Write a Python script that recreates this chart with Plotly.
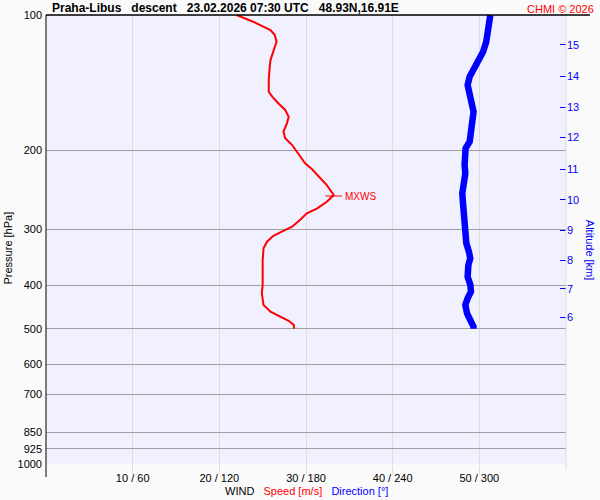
import numpy as np
import plotly.graph_objects as go

# ---------------- data ----------------
speed_p = [100, 103.5, 108.0, 110.8, 114.7, 120.7, 126.0, 131.4, 139.5, 148.2, 152.0, 157.2,
           162.7, 168.5, 174.3, 181.9, 188.2, 194.8, 203.3, 213.9, 220.6, 227.2, 239.2, 251.7,
           260.5, 269.5, 276.5, 286.2, 296.1, 303.8, 310.6, 319.8, 330.8, 351.3, 399.3, 416.7,
           442.5, 458.0, 469.9, 479.7, 490.4, 500]
speed_ms = [22.0, 23.9, 25.9, 26.4, 26.6, 26.2, 25.9, 25.8, 25.7, 25.7, 26.1, 26.8,
            27.6, 28.0, 27.8, 27.4, 27.6, 28.4, 29.1, 29.9, 30.7, 31.3, 32.4, 33.2,
            32.4, 31.3, 30.1, 29.3, 28.4, 27.2, 26.2, 25.5, 25.1, 25.0, 25.0, 24.9,
            25.1, 25.9, 27.0, 28.0, 28.6, 28.6]

dir_p = [100, 103.5, 108.9, 114.7, 120.7, 126.0, 131.4, 137.2, 143.2, 149.4, 156.0, 164.2,
         172.9, 183.4, 191.5, 198.1, 206.8, 215.9, 225.3, 237.1, 249.5, 262.6, 281.4, 306.3,
         322.5, 336.7, 348.2, 360.4, 382.8, 399.3, 413.3, 427.6, 442.5, 461.8, 478.0, 494.6, 500]
dir_deg = [307.6, 307.1, 306.4, 304.8, 302.6, 299.5, 296.0, 293.3, 291.9, 293.3, 295.3, 296.0,
           295.1, 294.7, 293.3, 290.5, 289.6, 289.8, 290.3, 289.1, 288.2, 288.7, 289.6, 289.6,
           291.0, 292.8, 293.7, 292.4, 291.9, 293.8, 294.2, 291.9, 290.3, 291.5, 294.2, 296.0, 296.0]

mxws_p = 253
mxws_speed = 33.2

p_ticks = [100, 200, 300, 400, 500, 600, 700, 850, 925, 1000]
p_tick_labels = [str(v) for v in p_ticks]

alt_km = [6, 7, 8, 9, 10, 11, 12, 13, 14, 15]
alt_p = [470.6, 407.0, 351.3, 301.2, 258.2, 220.3, 187.3, 160.5, 136.9, 116.6]

wind_ticks = [10, 20, 30, 40, 50]
wind_tick_labels = ["10 / 60", "20 / 120", "30 / 180", "40 / 240", "50 / 300"]

title_text = ("<b>Praha-Libus&nbsp;&nbsp;&nbsp;descent&nbsp;&nbsp;&nbsp;23.02.2026 07:30 UTC"
              "&nbsp;&nbsp;&nbsp;48.93N,16.91E</b>")
copyright_text = "CHMI © 2026"

# ---------------- figure ----------------
FONT = "Liberation Sans, Arial, sans-serif"
RED = "#FF0000"
BLUE = "#0000FF"

fig = go.Figure()

fig.add_trace(go.Scatter(x=speed_ms, y=speed_p, mode="lines",
                         line=dict(color=RED, width=2), xaxis="x", yaxis="y",
                         showlegend=False, hoverinfo="skip"))
fig.add_trace(go.Scatter(x=dir_deg, y=dir_p, mode="lines",
                         line=dict(color=BLUE, width=6.5), xaxis="x2", yaxis="y",
                         showlegend=False, hoverinfo="skip"))
fig.add_trace(go.Scatter(x=[mxws_speed], y=[mxws_p], mode="markers",
                         marker=dict(symbol="line-ew", size=12,
                                     line=dict(color=RED, width=1)),
                         xaxis="x", yaxis="y", showlegend=False, hoverinfo="skip"))
# invisible trace to activate the right altitude axis
fig.add_trace(go.Scatter(x=[None], y=[None], xaxis="x", yaxis="y2",
                         showlegend=False, hoverinfo="skip"))

shapes = []
# extension of vertical gridlines / right border
shapes.append(dict(type="line", xref="paper", yref="paper", x0=1, x1=1, y0=-0.013, y1=1,
                   line=dict(color="#DCDCDC", width=1), layer="above"))
# left black axis line
shapes.append(dict(type="line", xref="paper", yref="paper", x0=0, x1=0, y0=-0.029, y1=1,
                   line=dict(color="black", width=1), layer="above"))
# top black line
shapes.append(dict(type="line", xref="paper", yref="paper", x0=0, x1=1.046, y0=1, y1=1,
                   line=dict(color="black", width=1.5), layer="above"))
# MXWS markers on both sides
ly = float(np.log10(mxws_p))
shapes.append(dict(type="line", xref="paper", yref="y", x0=-0.006, x1=0.019, y0=ly, y1=ly,
                   line=dict(color=RED, width=1), layer="above"))
shapes.append(dict(type="line", xref="paper", yref="y", x0=0.979, x1=1.002, y0=ly, y1=ly,
                   line=dict(color=RED, width=1), layer="above"))

annotations = [
    dict(text=title_text, xref="paper", yref="paper", x=0.008, y=1.0, xanchor="left",
         yanchor="bottom", yshift=-2, showarrow=False, font=dict(family=FONT, size=12, color="black")),
    dict(text=copyright_text, xref="paper", yref="paper", x=1.058, y=1.0, xanchor="right",
         yanchor="bottom", yshift=-2, showarrow=False, font=dict(family=FONT, size=11, color=RED)),
    dict(text="MXWS", xref="x", yref="y", x=mxws_speed, y=ly, xanchor="left", yanchor="middle",
         xshift=9, showarrow=False, font=dict(family=FONT, size=10, color=RED)),
    dict(text=("WIND&nbsp;&nbsp;&nbsp;<span style='color:#FF0000'>Speed [m/s]</span>&nbsp;&nbsp;&nbsp;"
               "<span style='color:#0000FF'>Direction [°]</span>"),
         xref="paper", yref="paper", x=0.5, y=-0.06, xanchor="center", yanchor="middle",
         showarrow=False, font=dict(family=FONT, size=11, color="black")),
    dict(text="Altitude [km]", xref="paper", yref="paper", x=1.046, y=0.475, xanchor="center",
         yanchor="middle", textangle=90, showarrow=False,
         font=dict(family=FONT, size=11, color=BLUE)),
    dict(text="Pressure [hPa]", xref="paper", yref="paper", x=-0.073, y=0.48, xanchor="center",
         yanchor="middle", textangle=-90, showarrow=False,
         font=dict(family=FONT, size=11, color="black")),
]

fig.update_layout(
    width=600, height=500,
    margin=dict(l=46, r=34, t=15, b=36, pad=0, autoexpand=False),
    paper_bgcolor="#FAFAFA",
    plot_bgcolor="#F0F0FF",
    font=dict(family=FONT, size=11, color="black"),
    xaxis=dict(range=[0, 60], tickvals=wind_ticks, ticktext=wind_tick_labels, automargin=False,
               showgrid=True, gridcolor="#DCDCDC", gridwidth=1, zeroline=False, showline=False,
               ticks="outside", ticklen=9, tickcolor="#DCDCDC", tickwidth=1,
               ticklabelstandoff=-5, tickfont=dict(family=FONT, size=11, color="black"),
               fixedrange=True),
    xaxis2=dict(range=[0, 360], overlaying="x", visible=False, fixedrange=True),
    yaxis=dict(type="log", range=[3, 2], tickvals=p_ticks, ticktext=p_tick_labels,
               automargin=False,
               showgrid=True, gridcolor="#A0A0A0", gridwidth=1, zeroline=False, showline=False,
               ticks="", tickfont=dict(family=FONT, size=11, color="black"),
               ticklabelstandoff=3, fixedrange=True),
    yaxis2=dict(type="log", range=[3, 2], overlaying="y", side="right", anchor="x",
                automargin=False,
                tickvals=alt_p, ticktext=[str(v) for v in alt_km],
                showgrid=False, zeroline=False, showline=False,
                ticks="inside", ticklen=6, tickcolor=BLUE, tickwidth=1,
                tickfont=dict(family=FONT, size=11, color=BLUE), fixedrange=True),
    shapes=shapes,
    annotations=annotations,
    showlegend=False,
)

fig.write_html("out.html", config={"displayModeBar": False},
               post_script="document.body.style.margin='0';document.body.style.background='#FAFAFA';")
